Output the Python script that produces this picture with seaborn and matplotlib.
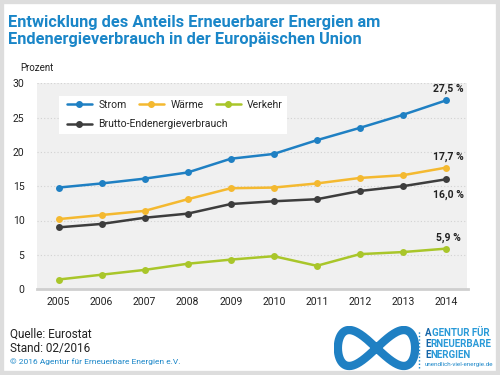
import numpy as np
import pandas as pd
import seaborn as sns
import matplotlib.pyplot as plt
import matplotlib.patches as mpatches
from matplotlib.lines import Line2D

years = [2005, 2006, 2007, 2008, 2009, 2010, 2011, 2012, 2013, 2014]
strom = [14.8, 15.4, 16.1, 17.0, 19.0, 19.7, 21.7, 23.5, 25.4, 27.5]
waerme = [10.2, 10.8, 11.4, 13.1, 14.7, 14.8, 15.4, 16.2, 16.6, 17.7]
verkehr = [1.4, 2.1, 2.8, 3.7, 4.3, 4.8, 3.4, 5.1, 5.4, 5.9]
brutto = [9.0, 9.5, 10.4, 11.0, 12.4, 12.8, 13.1, 14.3, 15.0, 16.0]
end_labels = ['27,5 %', '17,7 %', '5,9 %', '16,0 %']

series = ['Strom', 'Wärme', 'Verkehr', 'Brutto-Endenergieverbrauch']
colors = ['#1f80c3', '#f4b930', '#a9c62a', '#3d3d3d']

df = pd.concat([
    pd.DataFrame({'Jahr': years, 'Wert': vals, 'Reihe': name})
    for name, vals in zip(series, [strom, waerme, verkehr, brutto])
], ignore_index=True)

sns.set_style('white', {'axes.facecolor': '#f0f0f0'})
plt.rcParams['font.family'] = ['Roboto', 'DejaVu Sans']

fig = plt.figure(figsize=(5, 3.75), dpi=100)
ax = fig.add_axes([0.074, 0.229, 0.861, 0.549])

sns.lineplot(data=df, x='Jahr', y='Wert', hue='Reihe', hue_order=series,
             palette=colors, marker='o', markersize=5, markeredgewidth=0,
             linewidth=1.8, ax=ax, legend=False, zorder=3)

ax.set_xlim(2004.5, 2014.5)
ax.set_ylim(0, 30)
ax.set_xticks(years)
ax.set_yticks([0, 5, 10, 15, 20, 25, 30])
ax.set_xlabel('')
ax.set_ylabel('')
for s in ['top', 'left', 'right']:
    ax.spines[s].set_visible(False)
ax.spines['bottom'].set_color('#cfcfcf')
ax.spines['bottom'].set_linewidth(2)
ax.tick_params(axis='x', direction='in', length=4.5, width=0.8, color='#cccccc',
               labelsize=7.5, pad=6, labelcolor='#222222')
ax.tick_params(axis='y', length=0, labelsize=7.5, pad=9, labelcolor='#222222')
for y in [5, 10, 15, 20, 25, 30]:
    ax.axhline(y, color='#d2d2d2', lw=0.8, ls=(0, (1, 2)), zorder=1)

# end labels
ends = [strom[-1], waerme[-1], verkehr[-1], brutto[-1]]
offs = [8, 8, 8, -11]
for val, lab, off in zip(ends, end_labels, offs):
    ax.annotate(lab, (years[-1], val), xytext=(2, off), textcoords='offset points',
                ha='center', va='center', fontsize=7.5, fontweight='bold', color='#222222')

# legend box
ax.add_patch(mpatches.Rectangle((0.051, 0.752), 0.529, 0.186, transform=ax.transAxes,
                                facecolor='white', edgecolor='none', zorder=4))
h = [Line2D([], [], color=c, marker='o', markersize=4, lw=1.8) for c in colors]
leg1 = ax.legend(h[:3], series[:3], ncol=3, loc='upper left', bbox_to_anchor=(0.06, 0.94),
                 frameon=False, fontsize=7.5, handlelength=2.4, columnspacing=1.2,
                 handletextpad=0.6, borderaxespad=0)
ax.add_artist(leg1)
leg2 = ax.legend(h[3:], series[3:], loc='upper left', bbox_to_anchor=(0.06, 0.845),
                 frameon=False, fontsize=7.5, handlelength=2.4, handletextpad=0.6,
                 borderaxespad=0)
leg1.set_zorder(5)
leg2.set_zorder(5)

# texts
fig.text(0.016, 0.96, 'Entwicklung des Anteils Erneuerbarer Energien am\nEndenergieverbrauch in der Europäischen Union',
         fontsize=11.8, fontweight='bold', color='#1a86c8', va='top', linespacing=1.2)
fig.text(0.04, 0.81, 'Prozent', fontsize=7, color='#222222')
fig.text(0.02, 0.09, 'Quelle: Eurostat\nStand: 02/2016', fontsize=8.5, color='#222222',
         va='center', linespacing=1.15)
fig.text(0.02, 0.035, '© 2016 Agentur für Erneuerbare Energien e.V.', fontsize=6,
         color='#1a86c8', va='center')

# logo
lax = fig.add_axes([0.668, 0.012, 0.17, 0.12])
t = np.linspace(0, 2 * np.pi, 300)
lax.plot(np.sin(t), np.sin(t) * np.cos(t) * 1.6, color='#1f80c3', lw=6, solid_capstyle='round')
lax.set_xlim(-1.1, 1.1)
lax.set_ylim(-1.0, 1.0)
lax.axis('off')
fig.add_artist(Line2D([0.838, 0.838], [0.02, 0.12], color='#1a86c8', lw=1, ls=(0, (1, 1.5))))
for i, word in enumerate(['AGENTUR FÜR', 'ERNEUERBARE', 'ENERGIEN']):
    yy = 0.112 - i * 0.03
    first = fig.text(0.85, yy, word[0], fontsize=7, fontweight='bold', color='#1565a8', va='center')
    fig.axes[0].annotate(word[1:], xy=(1, 0.5), xycoords=first, va='center', ha='left',
                         fontsize=7, fontweight='bold', color='#2a9ad8', annotation_clip=False)
fig.text(0.85, 0.028, 'unendlich-viel-energie.de', fontsize=4.5, color='#1a86c8', va='center')

# frame
fig.add_artist(mpatches.Rectangle((0, 0), 1, 1, transform=fig.transFigure, fill=False,
                                  edgecolor='#dddddd', lw=6))

fig.savefig('out.png', dpi=100)
